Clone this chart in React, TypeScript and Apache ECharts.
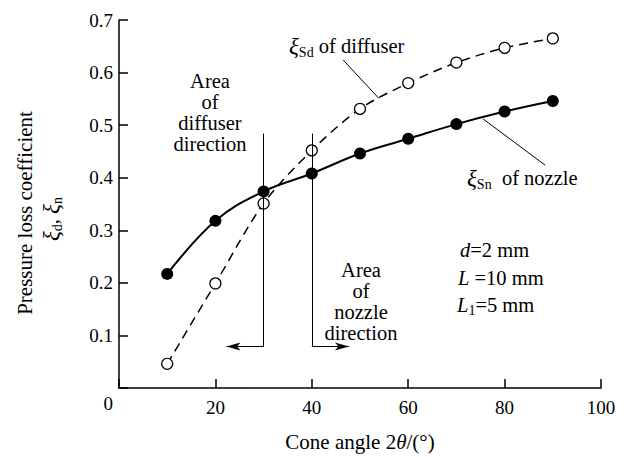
import React, { useEffect, useRef } from "react";
import * as echarts from "echarts";

const coneAngles = [10, 20, 30, 40, 50, 60, 70, 80, 90];
const nozzleValues = [0.217, 0.318, 0.374, 0.408, 0.446, 0.474, 0.502, 0.526, 0.546];
const diffuserValues = [0.046, 0.199, 0.351, 0.452, 0.531, 0.58, 0.619, 0.647, 0.665];
const xTickValues = [0, 20, 40, 60, 80, 100];
const yTickValues = [0, 0.1, 0.2, 0.3, 0.4, 0.5, 0.6, 0.7];

const FONT = "'Liberation Serif', 'Times New Roman', serif";
const FS = 19;
const AS = 20.5;

export default function App() {
  const ref = useRef<HTMLDivElement>(null);
  useEffect(() => {
    document.body.style.margin = "0";
    if (!ref.current) return;
    const chart = echarts.init(ref.current, undefined, { renderer: "svg" });
    const lineBlack = { color: "#000", width: 1, type: "solid" as const };
    const xiRich = {
      xi: { fontFamily: FONT, fontSize: 23, fontStyle: "italic", fill: "#000" },
      sub: { fontFamily: FONT, fontSize: 14, padding: [13, 0, 0, 0], fill: "#000" },
      t: { fontFamily: FONT, fontSize: AS, fill: "#000" },
    };
    const paramRich = {
      it: { fontFamily: FONT, fontSize: AS, fontStyle: "italic", fill: "#000" },
      sub: { fontFamily: FONT, fontSize: 14, padding: [11, 0, 0, 0], fill: "#000" },
      t: { fontFamily: FONT, fontSize: AS, fill: "#000" },
    };
    const centered = {
      align: "center",
      verticalAlign: "middle",
      textAlign: "center",
      textVerticalAlign: "middle",
    };
    const leftMid = {
      align: "left",
      verticalAlign: "middle",
      textAlign: "left",
      textVerticalAlign: "middle",
    };
    const option: any = {
      animation: false,
      backgroundColor: "#fff",
      grid: { left: 119, right: 26, top: 20, bottom: 64, containLabel: false },
      xAxis: {
        type: "value",
        min: xTickValues[0],
        max: xTickValues[xTickValues.length - 1],
        interval: 20,
        name: "Cone angle 2{it|θ}/(°)",
        nameLocation: "middle",
        nameGap: 43,
        nameTextStyle: {
          color: "#000",
          fontFamily: FONT,
          fontSize: 21,
          rich: { it: { fontStyle: "italic", fontFamily: FONT, fontSize: 21, color: "#000" } },
        },
        axisLine: { show: true, lineStyle: { color: "#000", width: 1.5 } },
        axisTick: { show: true, inside: true, length: 9, lineStyle: { color: "#000", width: 1.5 } },
        splitLine: { show: false },
        axisLabel: {
          color: "#000",
          fontFamily: FONT,
          fontSize: FS,
          margin: 10,
          formatter: (v: number) => (v === 0 ? "" : String(v)),
        },
      },
      yAxis: {
        type: "value",
        min: yTickValues[0],
        max: yTickValues[yTickValues.length - 1],
        interval: 0.1,
        axisLine: { show: true, lineStyle: { color: "#000", width: 1.5 } },
        axisTick: { show: true, inside: true, length: 9, lineStyle: { color: "#000", width: 1.5 } },
        splitLine: { show: false },
        axisLabel: {
          color: "#000",
          fontFamily: FONT,
          fontSize: FS,
          margin: 6,
          formatter: (v: number) => (Math.abs(v) < 1e-9 ? "{z|0}" : v.toFixed(1)),
          rich: { z: { padding: [30, 0, 0, 0], fontFamily: FONT, fontSize: FS, color: "#000" } },
        },
      },
      series: [
        {
          name: "diffuser",
          type: "line",
          data: coneAngles.map((x, i) => [x, diffuserValues[i]]),
          smooth: 0.3,
          symbol: "circle",
          symbolSize: 11,
          itemStyle: { color: "#fff", borderColor: "#000", borderWidth: 1.2 },
          lineStyle: { color: "#000", width: 1.5, type: [9, 6] },
          z: 2,
          markLine: {
            silent: true,
            symbol: "none",
            animation: false,
            label: { show: false },
            lineStyle: lineBlack,
            data: [
              [{ coord: [30, 0.484] }, { coord: [30, 0.079] }],
              [{ coord: [40, 0.484] }, { coord: [40, 0.079] }],
              [{ coord: [30, 0.079] }, { coord: [22.3, 0.079], symbol: "arrow", symbolSize: [6, 14] }],
              [{ coord: [40, 0.079] }, { coord: [47.7, 0.079], symbol: "arrow", symbolSize: [6, 14] }],
              [{ coord: [46.5, 0.624] }, { coord: [53.9, 0.551] }],
              [{ coord: [75.5, 0.512] }, { coord: [88.4, 0.424] }],
            ],
          },
        },
        {
          name: "nozzle",
          type: "line",
          data: coneAngles.map((x, i) => [x, nozzleValues[i]]),
          smooth: 0.4,
          symbol: "circle",
          symbolSize: 12,
          itemStyle: { color: "#000" },
          lineStyle: { color: "#000", width: 2 },
          z: 3,
        },
      ],
      graphic: [
        {
          type: "text",
          x: 25,
          y: 213,
          rotation: Math.PI / 2,
          style: { text: "Pressure loss coefficient", font: `21px ${FONT}`, fill: "#000", ...centered },
        },
        {
          type: "text",
          x: 51,
          y: 219,
          rotation: Math.PI / 2,
          style: { text: "{xi|ξ}{sub|d}{t|, }{xi|ξ}{sub|n}", fill: "#000", ...centered, rich: xiRich },
        },
        {
          type: "text",
          x: 210,
          y: 112,
          style: {
            text: "Area\nof\ndiffuser\ndirection",
            font: `${AS}px ${FONT}`,
            lineHeight: 21,
            fill: "#000",
            ...centered,
          },
        },
        {
          type: "text",
          x: 361,
          y: 301,
          style: {
            text: "Area\nof\nnozzle\ndirection",
            font: `${AS}px ${FONT}`,
            lineHeight: 21,
            fill: "#000",
            ...centered,
          },
        },
        {
          type: "text",
          x: 289,
          y: 46,
          style: { text: "{xi|ξ}{sub|Sd}{t| of diffuser}", fill: "#000", ...leftMid, rich: xiRich },
        },
        {
          type: "text",
          x: 467,
          y: 178,
          style: { text: "{xi|ξ}{sub|Sn}{t|  of nozzle}", fill: "#000", ...leftMid, rich: xiRich },
        },
        {
          type: "text",
          x: 460,
          y: 250,
          style: { text: "{it|d}{t|=2 mm}", fill: "#000", ...leftMid, rich: paramRich },
        },
        {
          type: "text",
          x: 458,
          y: 278,
          style: { text: "{it|L}{t| =10 mm}", fill: "#000", ...leftMid, rich: paramRich },
        },
        {
          type: "text",
          x: 457,
          y: 305,
          style: { text: "{it|L}{sub|1}{t|=5 mm}", fill: "#000", ...leftMid, rich: paramRich },
        },
      ],
    };
    chart.setOption(option);
    return () => chart.dispose();
  }, []);
  return <div ref={ref} style={{ width: 627, height: 457 }} />;
}
